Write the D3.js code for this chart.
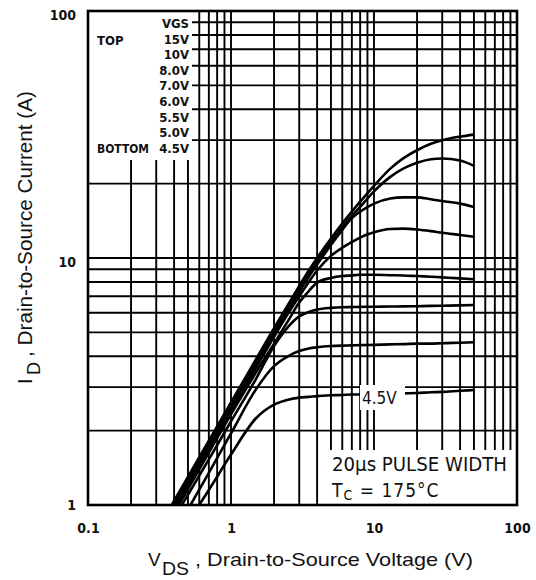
<!DOCTYPE html>
<html>
<head>
<meta charset="utf-8">
<script src="https://cdn.jsdelivr.net/npm/d3@7/dist/d3.min.js"></script>
<style>
  html, body { margin: 0; padding: 0; background: #fff; }
  svg { display: block; }
</style>
</head>
<body>
<svg id="chart" width="536" height="580"></svg>
<script>
// ---- data ----
const vds = [0.35, 0.5, 0.7, 1, 1.5, 2, 2.5, 3, 3.5, 4, 5, 6, 7, 8, 10, 13, 16, 20, 25, 30, 40, 50];
const vgsLabels = ["15V", "10V", "8.0V", "7.0V", "6.0V", "5.5V", "5.0V", "4.5V"];
const id15V = [0.91, 1.30, 1.82, 2.6, 3.9, 5.2, 6.45, 7.7, 8.9, 10.0, 12.0, 13.8, 15.4, 16.9, 19.6, 23.0, 25.3, 27.3, 29.0, 30.0, 31.0, 31.6];
const id10V = [0.89, 1.27, 1.77, 2.53, 3.8, 5.05, 6.3, 7.5, 8.6, 9.7, 11.6, 13.3, 14.8, 16.1, 18.6, 21.3, 23.0, 24.3, 25.1, 25.3, 24.8, 23.6];
const id8V = [0.86, 1.23, 1.73, 2.47, 3.7, 4.9, 6.1, 7.3, 8.4, 9.4, 11.3, 13.0, 14.5, 15.4, 16.6, 17.4, 17.6, 17.6, 17.3, 17.0, 16.6, 16.1];
const id7V = [0.84, 1.2, 1.69, 2.41, 3.6, 4.8, 5.95, 7.0, 8.0, 8.9, 10.2, 11.0, 11.6, 12.1, 12.7, 13.1, 13.15, 13.05, 12.85, 12.65, 12.4, 12.2];
const id6V = [0.81, 1.16, 1.63, 2.33, 3.45, 4.5, 5.55, 6.6, 7.35, 7.95, 8.3, 8.45, 8.5, 8.55, 8.55, 8.52, 8.5, 8.45, 8.4, 8.35, 8.27, 8.2];
const id5p5V = [0.78, 1.1, 1.53, 2.18, 3.25, 4.4, 5.25, 5.8, 6.05, 6.18, 6.28, 6.32, 6.33, 6.34, 6.35, 6.36, 6.37, 6.38, 6.4, 6.41, 6.43, 6.45];
const id5V = [0.67, 0.96, 1.35, 1.95, 2.95, 3.65, 4.0, 4.2, 4.3, 4.35, 4.4, 4.42, 4.43, 4.44, 4.45, 4.47, 4.48, 4.5, 4.5, 4.52, 4.54, 4.56];
const id4p5V = [0.6, 0.85, 1.15, 1.6, 2.25, 2.55, 2.67, 2.72, 2.74, 2.76, 2.78, 2.79, 2.8, 2.8, 2.81, 2.82, 2.83, 2.84, 2.86, 2.87, 2.9, 2.92];
const seriesValues = [id15V, id10V, id8V, id7V, id6V, id5p5V, id5V, id4p5V];
const xTickLabels = ["0.1", "1", "10", "100"];
const yTickLabels = ["1", "10", "100"];
const xTickValues = [0.1, 1, 10, 100];
const yTickValues = [1, 10, 100];

// ---- layout ----
const svg = d3.select("#chart");
const L = 88, R = 517, T = 11, B = 505;
const x = d3.scaleLog().domain([0.1, 100]).range([L, R]);
const y = d3.scaleLog().domain([1, 100]).range([B, T]);
const narrow = "'Liberation Sans Narrow','Arial Narrow','DejaVu Sans Condensed',sans-serif";
const sans = "'Liberation Sans',Arial,Helvetica,sans-serif";
const ink = "#111";

svg.append("rect").attr("width", 536).attr("height", 580).attr("fill", "#fff");

// grid
const grid = svg.append("g").attr("stroke", "#000").attr("stroke-width", 1.9);
grid.selectAll("line.v").data(x.ticks()).join("line")
  .attr("x1", d => x(d)).attr("x2", d => x(d)).attr("y1", T).attr("y2", B);
grid.selectAll("line.h").data(y.ticks()).join("line")
  .attr("y1", d => y(d)).attr("y2", d => y(d)).attr("x1", L).attr("x2", R);

// legend box (white, covers grid)
svg.append("rect").attr("x", L).attr("y", T).attr("width", 104).attr("height", 149).attr("fill", "#fff");
const leg = svg.append("g").attr("font-family", narrow).attr("font-weight", "bold")
  .attr("font-size", 13).attr("fill", ink);
leg.append("text").attr("x", 97).attr("y", 45).text("TOP");
leg.append("text").attr("x", 97).attr("y", 153).attr("textLength", 52)
  .attr("lengthAdjust", "spacingAndGlyphs").text("BOTTOM");
leg.append("text").attr("x", 189).attr("y", 28).attr("text-anchor", "end").text("VGS");
leg.selectAll("text.v").data(vgsLabels).join("text")
  .attr("x", 189).attr("y", (d, i) => 28 + (i + 1) * 15.6)
  .attr("text-anchor", "end").text(d => d);

// annotation box
svg.append("rect").attr("x", 322).attr("y", 450).attr("width", R - 322).attr("height", B - 450).attr("fill", "#fff");
const ann = svg.append("g").attr("font-family", narrow).attr("font-size", 19).attr("fill", ink);
ann.append("text").attr("x", 332).attr("y", 471).attr("textLength", 175)
  .attr("lengthAdjust", "spacingAndGlyphs").text("20µs PULSE WIDTH");
const tc = ann.append("text").attr("x", 332).attr("y", 497).attr("letter-spacing", 1);
tc.append("tspan").text("T");
tc.append("tspan").attr("font-size", 14).attr("dy", 3).text("C");
tc.append("tspan").attr("dy", -3).text(" = 175°C");

// curves
const clip = svg.append("clipPath").attr("id", "plotclip");
clip.append("rect").attr("x", L).attr("y", T).attr("width", R - L).attr("height", B - T);
const line = d3.line().x(d => x(d[0])).y(d => y(d[1])).curve(d3.curveMonotoneX);
svg.append("g").attr("clip-path", "url(#plotclip)")
  .selectAll("path").data(seriesValues).join("path")
  .attr("d", vals => line(vds.map((v, i) => [v, vals[i]])))
  .attr("fill", "none").attr("stroke", "#000").attr("stroke-width", 2.6)
  .attr("stroke-linejoin", "round");

// 4.5V inline label
svg.append("rect").attr("x", 360).attr("y", 385).attr("width", 45).attr("height", 25).attr("fill", "#fff");
svg.append("text").attr("x", 362).attr("y", 404).attr("font-family", narrow)
  .attr("font-size", 17).attr("fill", ink).text(vgsLabels[7]);

// border
svg.append("rect").attr("x", L).attr("y", T).attr("width", R - L).attr("height", B - T)
  .attr("fill", "none").attr("stroke", "#000").attr("stroke-width", 2.6);

// axes tick labels
const xAxis = svg.append("g").attr("transform", `translate(0,${B})`)
  .call(d3.axisBottom(x).tickValues(xTickValues).tickSize(0).tickPadding(18)
    .tickFormat((d, i) => xTickLabels[i]));
xAxis.select(".domain").remove();
xAxis.selectAll("text").attr("font-family", narrow).attr("font-weight", "bold")
  .attr("font-size", 14).attr("fill", ink);

const yAxis = svg.append("g").attr("transform", `translate(${L},0)`)
  .call(d3.axisLeft(y).tickValues(yTickValues).tickSize(0).tickPadding(12)
    .tickFormat((d, i) => yTickLabels[i]));
yAxis.select(".domain").remove();
yAxis.selectAll("text").attr("font-family", narrow).attr("font-weight", "bold")
  .attr("font-size", 14).attr("fill", ink).attr("dy", d => d === 1 ? "0.33em" : "0.6em");

// x title
const xt = svg.append("g").attr("font-family", sans).attr("fill", ink);
xt.append("text").attr("x", 148).attr("y", 566).attr("font-size", 19).text("V");
xt.append("text").attr("x", 162).attr("y", 575).attr("font-size", 18).attr("textLength", 27)
  .attr("lengthAdjust", "spacingAndGlyphs").text("DS");
xt.append("text").attr("x", 195).attr("y", 566).attr("font-size", 19).attr("textLength", 278)
  .attr("lengthAdjust", "spacingAndGlyphs").text(", Drain-to-Source Voltage (V)");

// y title (rotated)
const yt = svg.append("g").attr("font-family", sans).attr("fill", ink)
  .attr("transform", "translate(32,0) rotate(-90)");
yt.append("text").attr("x", -384).attr("y", 0).attr("font-size", 20).text("I");
yt.append("text").attr("x", -375).attr("y", 8).attr("font-size", 18).text("D");
yt.append("text").attr("x", -357).attr("y", 0).attr("font-size", 20).attr("textLength", 266)
  .attr("lengthAdjust", "spacingAndGlyphs").text(", Drain-to-Source Current (A)");
</script>
</body>
</html>
